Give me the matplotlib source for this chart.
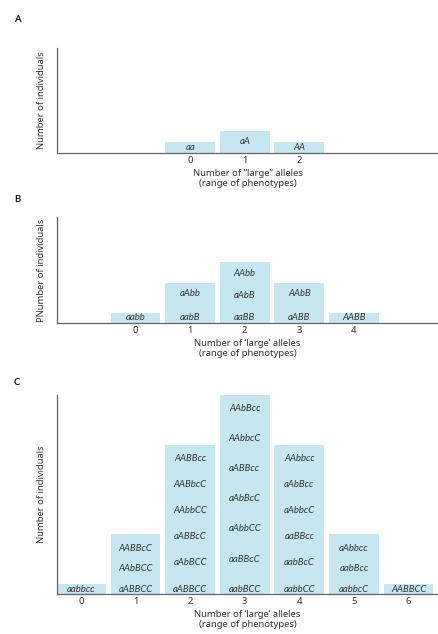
import numpy as np
import matplotlib
matplotlib.use("Agg")
import matplotlib.pyplot as plt

plt.rcParams["font.family"] = ["Noto Sans", "DejaVu Sans"]

# panel A: one gene
a_alleles = [0, 1, 2]
a_counts = [1, 2, 1]
a_labels = [["aa"], ["aA"], ["AA"]]

# panel B: two genes
b_alleles = [0, 1, 2, 3, 4]
b_counts = [1, 4, 6, 4, 1]
b_labels = [["aabb"], ["aabB", "aAbb"], ["aaBB", "aAbB", "AAbb"], ["aABB", "AAbB"], ["AABB"]]

# panel C: three genes
c_alleles = [0, 1, 2, 3, 4, 5, 6]
c_counts = [1, 6, 15, 20, 15, 6, 1]
c_labels = [
    ["aabbcc"],
    ["aABBCC", "AAbBCC", "AABBcC"],
    ["aABBCC", "aAbBCC", "aABBcC", "AAbbCC", "AABbcC", "AABBcc"],
    ["aabBCC", "aaBBcC", "aAbbCC", "aAbBcC", "aABBcc", "AAbbcC", "AAbBcc"],
    ["aabbCC", "aabBcC", "aaBBcc", "aAbbcC", "aAbBcc", "AAbbcc"],
    ["aabbcC", "aabBcc", "aAbbcc"],
    ["AABBCC"],
]

bar_color = "#c6e7ef"
text_color = "#333333"
spine_color = "#666666"

fig = plt.figure(figsize=(4.38, 6.34), dpi=100)

panels = [
    # letter, rect, alleles, counts, labels, slot offset, ylim top, label top margin, ylabel, xlabel
    ("A", [0.130, 0.7587, 0.870, 0.1656], a_alleles, a_counts, a_labels, 2, 9.55, 1.2,
     "Number of individuals", "Number of \u201clarge\u201d alleles\n(range of phenotypes)"),
    ("B", [0.130, 0.4905, 0.870, 0.1672], b_alleles, b_counts, b_labels, 1, 10.5, 1.1,
     "PNumber of individuals", "Number of \u2018large\u2019 alleles\n(range of phenotypes)"),
    ("C", [0.130, 0.0631, 0.870, 0.3139], c_alleles, c_counts, c_labels, 0, 20.0, 1.4,
     "Number of individuals", "Number of \u2018large\u2019 alleles\n(range of phenotypes)"),
]

letter_y = {"A": 0.970, "B": 0.685, "C": 0.396}

for letter, rect, alleles, counts, labels, off, ytop, margin, ylab, xlab in panels:
    ax = fig.add_axes(rect)
    x = np.array(alleles) + off
    ax.bar(x, counts, width=0.91, color=bar_color, edgecolor="none", zorder=1)
    for xi, h, labs in zip(x, counts, labels):
        n = len(labs)
        if n == 1:
            ys = [h / 2]
        else:
            ys = np.linspace(0.5, h - margin, n)
        for yi, t in zip(ys, labs):
            ax.text(xi, yi, t, ha="center", va="center", fontsize=6.8,
                    style="italic", family=["Lato", "DejaVu Sans"],
                    color=text_color, zorder=2)
    ax.set_xlim(-0.44, 6.54)
    ax.set_ylim(0, ytop)
    ax.set_xticks(x)
    ax.set_xticklabels([str(v) for v in alleles])
    ax.tick_params(axis="x", length=0, pad=2, labelsize=6.8, colors=text_color)
    ax.set_yticks([])
    for s in ["top", "right"]:
        ax.spines[s].set_visible(False)
    for s in ["left", "bottom"]:
        ax.spines[s].set_color(spine_color)
        ax.spines[s].set_linewidth(0.9)
    ax.set_ylabel(ylab, fontsize=6.8, color=text_color, labelpad=8)
    ax.set_xlabel(xlab, fontsize=6.8, color=text_color, labelpad=3, linespacing=1.15)
    fig.text(0.032, letter_y[letter], letter, fontsize=6.8, fontweight="bold",
             family=["Lato", "DejaVu Sans"], color="#111111", ha="left", va="center")

fig.savefig("out.png", dpi=100)
